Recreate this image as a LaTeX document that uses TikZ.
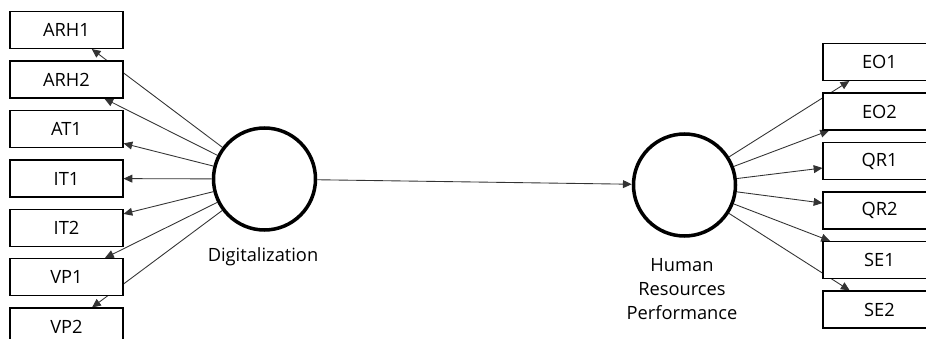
\documentclass[tikz,border=0pt]{standalone}
\usepackage{fontspec}
\setmainfont{Open Sans}
\usetikzlibrary{arrows.meta,backgrounds}

\begin{document}
\begin{tikzpicture}
    [item/.style={draw,fill=white,line width=0.6pt,minimum width=2.26cm,minimum height=0.74cm,inner sep=0pt,font=\fontsize{10.4}{12}\selectfont},
     latent/.style={draw,circle,line width=2pt,minimum size=2.04cm,inner sep=0pt},
     load/.style={-{Triangle[length=5pt,width=4.5pt]},line width=0.5pt,black!80},
     caption/.style={align=center,font=\fontsize{10.4}{13.9}\selectfont}]
		\clip (0,0) rectangle (18.52,6.78);

		\node [latent] (digit) at (5.29, 3.20) {};
		\node [latent] (hrperf) at (13.69, 3.08) {};
		\node [caption] (digitlabel) at (5.26, 1.64) {Digitalization};
		\node [caption] (hrperflabel) at (13.64, 1.00) {Human\\Resources\\Performance};

		\node [item] (arh1) at (1.33, 6.18) {ARH1};
		\node [item] (arh2) at (1.33, 5.19) {ARH2};
		\node [item] (at1) at (1.33, 4.20) {AT1};
		\node [item] (it1) at (1.33, 3.21) {IT1};
		\node [item] (it2) at (1.33, 2.22) {IT2};
		\node [item] (vp1) at (1.33, 1.24) {VP1};
		\node [item] (vp2) at (1.33, 0.25) {VP2};

		\node [item] (eo1) at (17.59, 5.54) {EO1};
		\node [item] (eo2) at (17.59, 4.55) {EO2};
		\node [item] (qr1) at (17.59, 3.56) {QR1};
		\node [item] (qr2) at (17.59, 2.57) {QR2};
		\node [item] (se1) at (17.59, 1.58) {SE1};
		\node [item] (se2) at (17.59, 0.59) {SE2};

		\begin{scope}[on background layer]
		\draw[load] (digit) -- (arh1);
		\draw[load] (digit) -- (arh2);
		\draw[load] (digit) -- (at1);
		\draw[load] (digit) -- (it1);
		\draw[load] (digit) -- (it2);
		\draw[load] (digit) -- (vp1);
		\draw[load] (digit) -- (vp2);

		\draw[load] (hrperf) -- (eo1);
		\draw[load] (hrperf) -- (eo2);
		\draw[load] (hrperf) -- (qr1);
		\draw[load] (hrperf) -- (qr2);
		\draw[load] (hrperf) -- (se1);
		\draw[load] (hrperf) -- (se2);

		\draw[load] (digit) -- (hrperf);
		\end{scope}
    \end{tikzpicture}
\end{document}
